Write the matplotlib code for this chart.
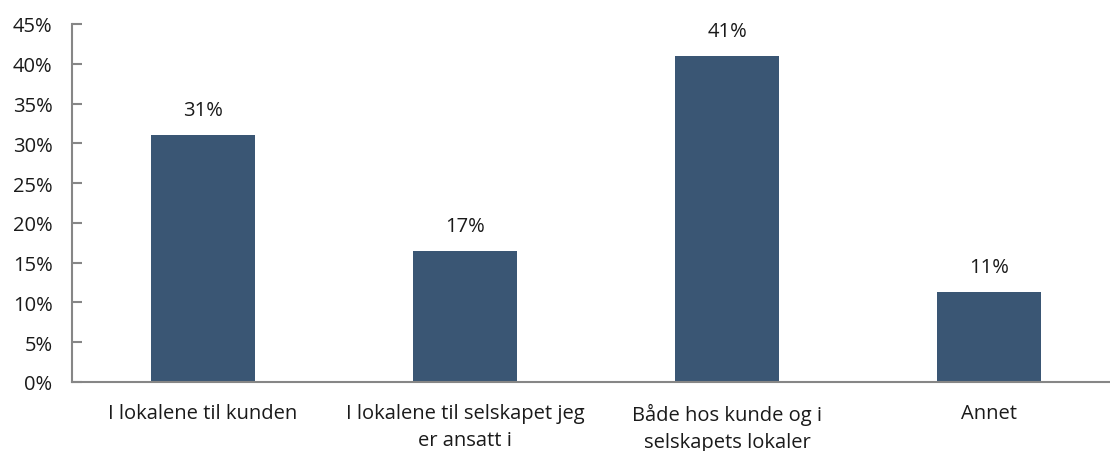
import matplotlib
matplotlib.use('Agg')
import matplotlib.pyplot as plt
from matplotlib.ticker import PercentFormatter

plt.rcParams['font.family'] = ['Open Sans', 'DejaVu Sans']

# data
categories = ['I lokalene til kunden',
              'I lokalene til selskapet jeg\ner ansatt i',
              'Både hos kunde og i\nselskapets lokaler',
              'Annet']
values = [31.05, 16.5, 40.98, 11.3]
value_labels = ['31%', '17%', '41%', '11%']
yticks = [0, 5, 10, 15, 20, 25, 30, 35, 40, 45]

bar_color = '#3a5674'
axis_color = '#868686'
text_color = '#1a1a1a'
fs = 14.5

fig = plt.figure(figsize=(11.1, 4.52), dpi=100)
# axis runs past the right edge of the figure, like the original
ax = fig.add_axes([72/1110, 69/452, 1048/1110, 358/452])

x = range(len(categories))
ax.bar(x, values, width=0.4, color=bar_color, zorder=2)
for i, v in enumerate(values):
    ax.text(i, v + 1.9, value_labels[i], ha='center', va='bottom',
            fontsize=fs, color=text_color)

ax.set_xlim(-0.5, len(categories) - 0.5)
ax.set_ylim(0, 45)
ax.set_yticks(yticks)
ax.yaxis.set_major_formatter(PercentFormatter(decimals=0))
ax.set_xticks(list(x))
ax.set_xticklabels(categories, fontsize=fs, color=text_color, linespacing=1.5)

for s in ['top', 'right']:
    ax.spines[s].set_visible(False)
for s in ['left', 'bottom']:
    ax.spines[s].set_color(axis_color)
    ax.spines[s].set_linewidth(1.5)

ax.tick_params(axis='y', direction='in', length=7, width=1.5, color=axis_color,
               labelsize=fs, labelcolor=text_color, pad=14)
ax.tick_params(axis='x', length=0, pad=15)

fig.savefig('out.png', dpi=100)
